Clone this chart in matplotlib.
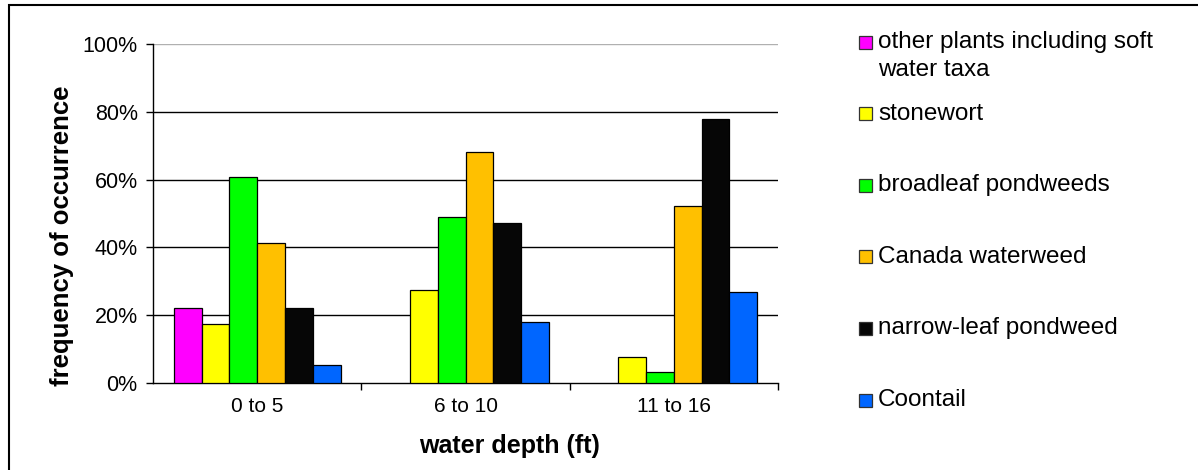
import numpy as np
import matplotlib.pyplot as plt
from matplotlib.patches import Rectangle
from matplotlib.ticker import PercentFormatter

plt.rcParams['font.family'] = ['Liberation Sans', 'DejaVu Sans']

depths = ["0 to 5", "6 to 10", "11 to 16"]
taxa = ["other plants including soft\nwater taxa", "stonewort", "broadleaf pondweeds",
        "Canada waterweed", "narrow-leaf pondweed", "Coontail"]
colors = ["#FF00FF", "#FFFF00", "#00FF00", "#FFC000", "#060606", "#0066FF"]

# frequency of occurrence (%) per taxon, for each depth class
other = [22.0, 0, 0]
stonewort = [17.3, 27.5, 7.7]
broadleaf = [60.8, 48.9, 3.3]
waterweed = [41.4, 68.0, 52.2]
narrowleaf = [22.0, 47.2, 77.8]
coontail = [5.2, 18.0, 26.8]
series = [other, stonewort, broadleaf, waterweed, narrowleaf, coontail]

W, H = 1198, 470
fig = plt.figure(figsize=(W / 100, H / 100), dpi=100)
ax = fig.add_axes([153 / W, 1 - 383 / H, 625 / W, 339 / H])

x = np.arange(len(depths))
bw = 0.8 / len(series)
for i, vals in enumerate(series):
    ax.bar(x - 0.4 + bw * (i + 0.5), vals, width=bw, color=colors[i],
           edgecolor=["black" if v > 0 else "none" for v in vals],
           linewidth=0.9, zorder=3)

ax.set_xlim(-0.5, len(depths) - 0.5)
ax.set_ylim(0, 100)
ax.set_yticks(np.arange(0, 101, 20))
ax.yaxis.set_major_formatter(PercentFormatter(decimals=0))
ax.set_xticks(x)
ax.set_xticklabels(depths, fontsize=15)
ax.set_xticks(np.arange(len(depths)) + 0.5, minor=True)
ax.tick_params(axis="x", which="major", length=0, pad=10)
ax.tick_params(axis="x", which="minor", length=5, width=1, direction="out")
ax.tick_params(axis="y", length=5, width=1, labelsize=15.5, pad=6)

for v in [20, 40, 60, 80]:
    ax.axhline(v, color="black", linewidth=1, zorder=1)
ax.axhline(100, color="#b0b0b0", linewidth=1, zorder=1)
for s in ["top", "right"]:
    ax.spines[s].set_visible(False)
ax.spines["left"].set_linewidth(1)
ax.spines["bottom"].set_linewidth(1)

fig.text(62 / W, 1 - 236 / H, "frequency of occurrence", rotation=90,
         fontsize=18.5, fontweight="bold", ha="center", va="center")
fig.text(510 / W, 1 - 446 / H, "water depth (ft)", fontsize=18,
         fontweight="bold", ha="center", va="center")

# legend drawn by hand to follow the wide spacing of the original
for i, label in enumerate(taxa):
    yc = 1 - (42 + 71.6 * i) / H
    fig.patches.append(Rectangle((859 / W, yc - 6.5 / H), 13 / W, 13 / H,
                                 transform=fig.transFigure, facecolor=colors[i],
                                 edgecolor="#333333", linewidth=0.9))
    fig.text(878 / W, yc + 11 / H, label, fontsize=17.5, ha="left", va="top",
             linespacing=1.35)

# outer frame of the figure, running off the page at right and bottom
fig.patches.append(Rectangle((9 / W, -0.1), 1.2, 1.1 - 5 / H,
                             transform=fig.transFigure, fill=False,
                             edgecolor="black", linewidth=1.5))

fig.savefig("out.png", dpi=100)
